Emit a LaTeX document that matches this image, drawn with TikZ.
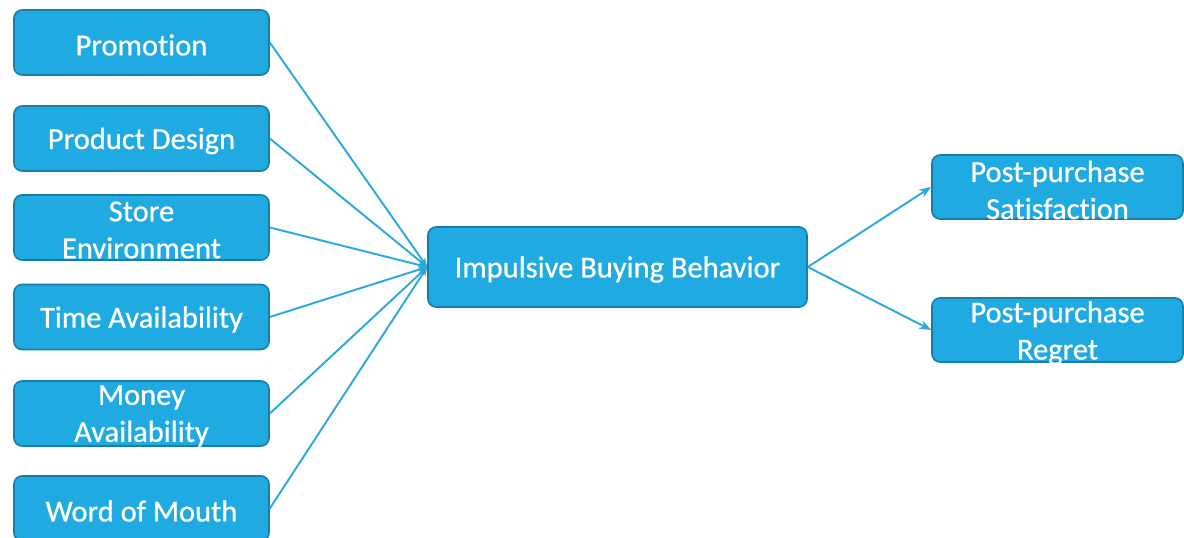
\documentclass[tikz,border=0pt]{standalone}
\usepackage{fontspec}
\newfontfamily\lblfont[RawFeature=-liga, FakeBold=0.7]{Carlito}
\usetikzlibrary{arrows.meta}
\definecolor{boxfill}{RGB}{31,170,225}
\definecolor{boxline}{RGB}{24,125,168}
\definecolor{linkcol}{RGB}{42,168,220}
\begin{document}
\begin{tikzpicture}[x=1pt,y=-1pt,
  box/.style={draw=boxline, line width=1.6pt, fill=boxfill, rounded corners=8pt,
    minimum width=255pt, minimum height=65pt, inner sep=0pt},
  hub/.style={box, minimum width=379pt, minimum height=80pt},
  outbox/.style={box, minimum width=251pt, minimum height=64pt},
  lbl/.style={text=white, font=\lblfont\fontsize{30.5}{37}\selectfont, align=center, inner sep=0pt},
  link/.style={draw=linkcol, line width=1.9pt},
  inarrow/.style={link, -{Stealth[length=9pt,width=7pt]}},
  outarrow/.style={link, -{Stealth[length=12pt,width=9pt]}}]
\useasboundingbox (0,0) rectangle (1184,538);
\fill[white] (0,0) rectangle (1184,538);

% factor boxes on the left
\node[box] (promo) at (141.5,42.5) {};
\node[lbl] (promoT) at (141.5,45) {Promotion};
\node[box] (design) at (141.5,138.5) {};
\node[lbl] (designT) at (141.5,141) {Product Design};
\node[box] (store) at (141.5,227.5) {};
\node[lbl] (storeT) at (141.5,230) {Store\\Environment};
\node[box] (time) at (141.5,317) {};
\node[lbl] (timeT) at (141.5,319.5) {Time Availability};
\node[box] (money) at (141.5,413.5) {};
\node[lbl] (moneyT) at (141.5,416) {Money\\Availability};
\node[box] (word) at (141.5,508.5) {};
\node[lbl] (wordT) at (141.5,511) {Word of Mouth};

% central behaviour box
\node[hub] (impulse) at (617.5,267) {};
\node[lbl] (impulseT) at (617.5,269.5) {Impulsive Buying Behavior};

% outcome boxes on the right
\node[outbox] (sat) at (1057.5,187) {};
\node[lbl] (satT) at (1057.5,190) {Post-purchase\\Satisfaction};
\node[outbox] (regret) at (1057.5,330) {};
\node[lbl] (regretT) at (1057.5,333) {Post-purchase\\Regret};

% connectors
\foreach \src in {promo,design,store,time,money,word}
  \draw[inarrow] (\src.east) -- (impulse.west);
\draw[outarrow] (impulse.east) -- (sat.west);
\draw[outarrow] (impulse.east) -- (regret.west);
\end{tikzpicture}
\end{document}
